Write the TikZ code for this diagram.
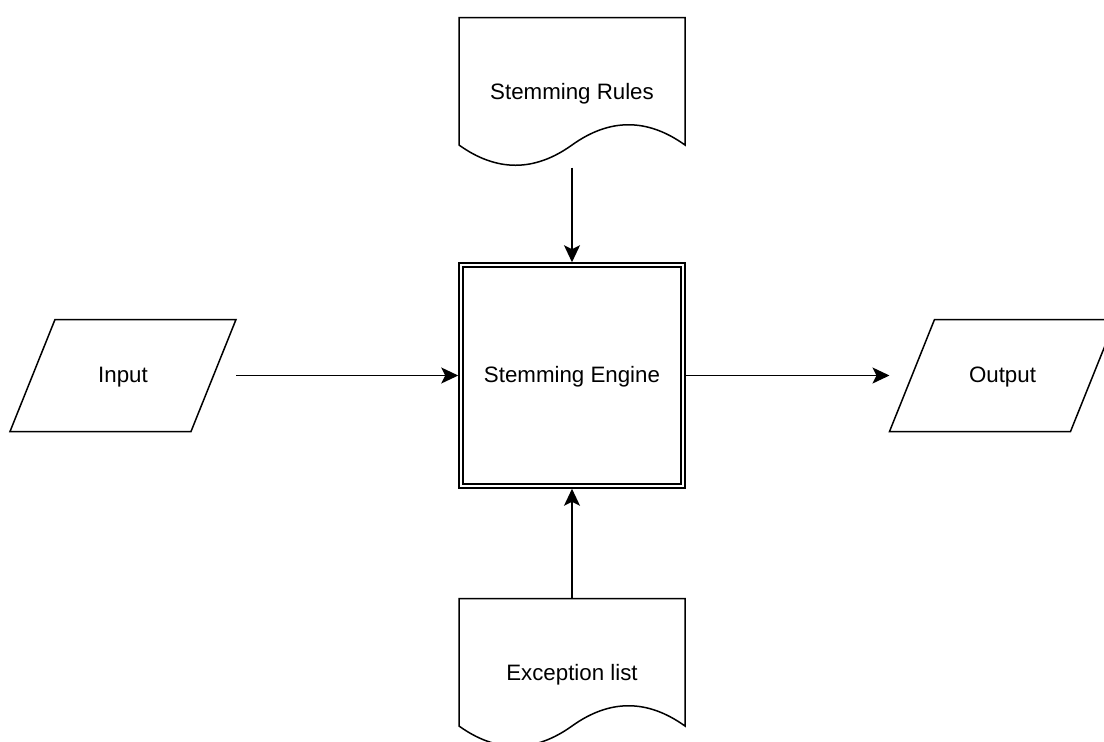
\documentclass[tikz,border=0pt]{standalone}
\usepackage{fontspec}
\setmainfont{Liberation Sans}
\usetikzlibrary{arrows.meta}

\newcommand{\docoutline}[1]{%
  \draw [shift={(#1.north west)}] (0,0) -- (226,0) -- (226,127.5)
    .. controls (188.33,100.5) and (150.67,100.5) .. (113,127.5)
    .. controls (75.33,154.5) and (37.67,154.5) .. (0,127.5) -- cycle;}
\newcommand{\iooutline}[1]{%
  \draw [shift={(#1.north west)}] (45,0) -- (226,0) -- (181,112) -- (0,112) -- cycle;}

\begin{document}
\begin{tikzpicture}[x=0.5pt,y=-0.5pt,line width=0.75pt,
    font=\fontsize{11.15}{13.4}\selectfont,
    every node/.style={inner sep=0pt,outer sep=0pt,text height=0.905em,text depth=0.212em},
    docbox/.style={minimum width=113pt,minimum height=75pt},
    iobox/.style={minimum width=113pt,minimum height=56pt},
    enginebox/.style={draw,double,double distance=1.25pt,outer sep=1.375pt,
      minimum width=111pt,minimum height=110.5pt},
    flow/.style={-{Stealth[length=8.5pt,width=8pt,inset=2pt]}}]
  \clip (0,0) rectangle (1104,741);
  \node [enginebox] (engine) at (572,375.5) {Stemming Engine};
  \node [docbox] (rules) at (572,92.5) {Stemming Rules};
  \node [docbox] (exceptions) at (572,673.5) {Exception list};
  \node [iobox] (input) at (123,375.5) {Input};
  \node [iobox] (output) at (1002.5,375.5) {Output};
  \docoutline{rules}
  \docoutline{exceptions}
  \iooutline{input}
  \iooutline{output}
  \draw [flow] (input.east) -- (engine.west);
  \draw [flow] (engine.east) -- (output.west);
  \draw [flow] (rules.south) -- (engine.north);
  \draw [flow] (exceptions.north) -- (engine.south);
\end{tikzpicture}
\end{document}
